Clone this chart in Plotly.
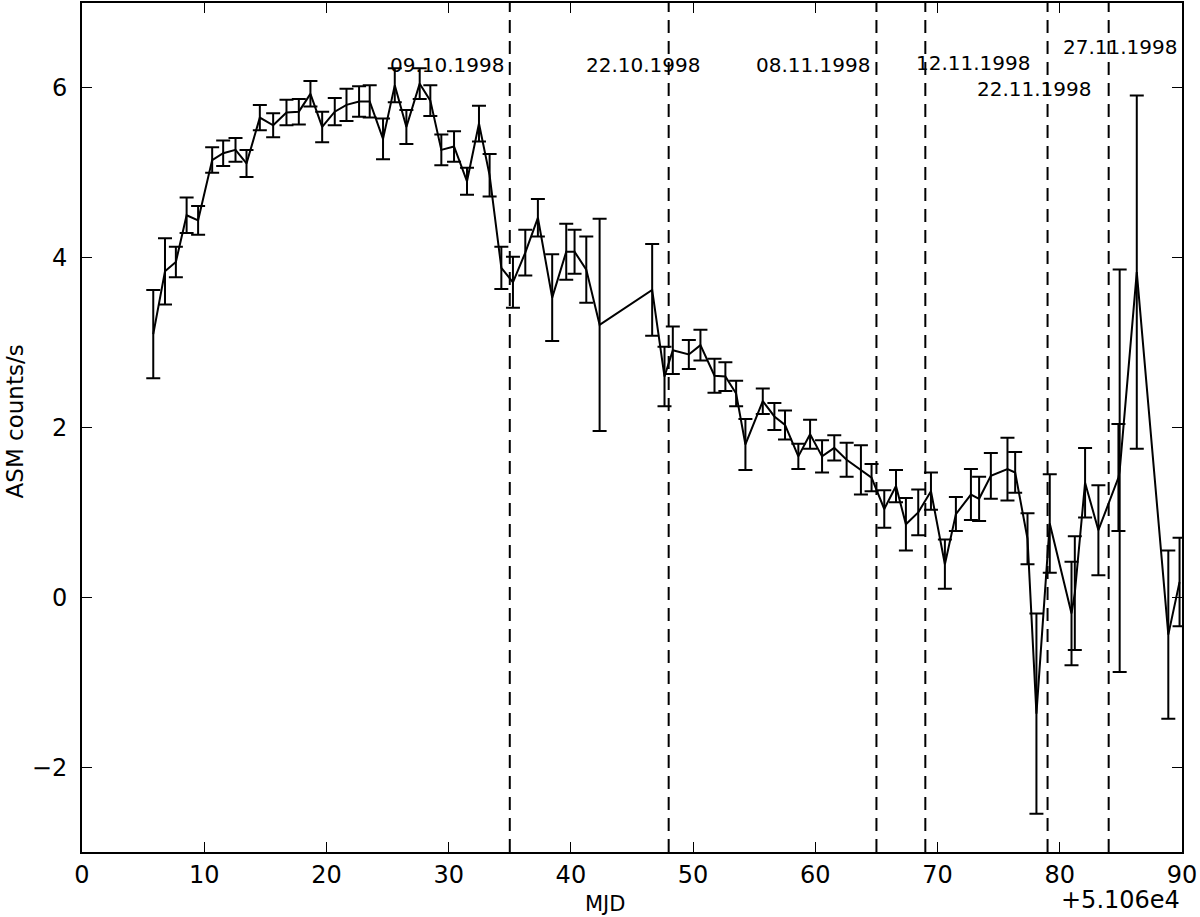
import plotly.graph_objects as go

# MJD offset from 51060, ASM rate and 1-sigma errors
mjd = [5.83, 6.79, 7.68, 8.56, 9.50, 10.65, 11.55, 12.56, 13.46, 14.55,
       15.64, 16.73, 17.74, 18.69, 19.65, 20.68, 21.64, 22.67, 23.54, 24.63,
       25.59, 26.54, 27.63, 28.50, 29.40, 30.44, 31.50, 32.48, 33.35, 34.31,
       35.26, 36.27, 37.30, 38.47, 39.62, 40.30, 41.26, 42.35, 46.65, 47.66,
       48.34, 49.65, 50.60, 51.75, 52.64, 53.52, 54.28, 55.70, 56.65, 57.52,
       58.61, 59.57, 60.55, 61.55, 62.56, 63.73, 64.60, 65.64, 66.60, 67.41,
       68.42, 69.46, 70.60, 71.50, 72.73, 73.40, 74.36, 75.72, 76.35, 77.36,
       78.09, 79.18, 80.96, 81.23, 82.07, 83.16, 84.80, 84.90, 86.30, 88.88, 89.80]

counts = [3.10, 3.84, 3.95, 4.50, 4.44, 5.15, 5.23, 5.27, 5.11, 5.65,
          5.56, 5.71, 5.72, 5.93, 5.54, 5.72, 5.80, 5.84, 5.84, 5.40,
          6.03, 5.54, 6.05, 5.85, 5.27, 5.31, 4.90, 5.58, 4.97, 3.88,
          3.71, 4.06, 4.47, 3.53, 4.07, 4.07, 3.86, 3.21, 3.62, 2.60,
          2.91, 2.86, 2.97, 2.61, 2.60, 2.40, 1.80, 2.31, 2.13, 2.03,
          1.66, 1.92, 1.66, 1.76, 1.62, 1.50, 1.41, 1.04, 1.31, 0.86,
          1.00, 1.25, 0.39, 0.98, 1.21, 1.16, 1.43, 1.51, 1.47, 0.69,
          -1.37, 0.87, -0.19, 0.05, 1.35, 0.79, 1.41, 1.49, 3.83, -0.44, 0.18]

errors = [0.52, 0.39, 0.18, 0.21, 0.17, 0.15, 0.15, 0.14, 0.16, 0.15,
          0.14, 0.15, 0.15, 0.15, 0.18, 0.16, 0.19, 0.18, 0.19, 0.24,
          0.20, 0.20, 0.18, 0.18, 0.18, 0.18, 0.16, 0.21, 0.25, 0.25,
          0.30, 0.27, 0.22, 0.51, 0.33, 0.26, 0.39, 1.25, 0.54, 0.35,
          0.28, 0.17, 0.18, 0.20, 0.17, 0.15, 0.30, 0.15, 0.16, 0.17,
          0.15, 0.17, 0.19, 0.15, 0.20, 0.29, 0.16, 0.22, 0.19, 0.31,
          0.27, 0.22, 0.29, 0.20, 0.30, 0.26, 0.27, 0.37, 0.24, 0.30,
          1.18, 0.58, 0.61, 0.67, 0.41, 0.53, 0.63, 2.37, 2.08, 0.99, 0.52]

# observation dates marked with dashed lines
obs_mjd = [35, 48, 65, 69, 79, 84]
obs_labels = ['09.10.1998', '22.10.1998', '08.11.1998', '12.11.1998', '22.11.1998', '27.11.1998']
label_x = [25.0, 41.1, 55.0, 68.1, 73.1, 80.1]
label_y = [6.27, 6.27, 6.27, 6.29, 5.99, 6.48]

FONT = 'DejaVu Sans'

fig = go.Figure()
fig.add_trace(go.Scatter(
    x=mjd, y=counts,
    mode='lines',
    line=dict(color='black', width=2),
    error_y=dict(type='data', array=errors, visible=True,
                 color='black', thickness=2, width=7),
    showlegend=False,
))

for xv in obs_mjd:
    fig.add_shape(type='line', xref='x', yref='paper', x0=xv, x1=xv, y0=0, y1=1,
                  line=dict(color='black', width=2, dash='13px,8px'))

for txt, xl, yl in zip(obs_labels, label_x, label_y):
    fig.add_annotation(x=xl, y=yl, text=txt, showarrow=False,
                       xanchor='left', yanchor='middle',
                       font=dict(family=FONT, size=20, color='black'))

# axis titles and offset text
fig.add_annotation(xref='paper', yref='paper', x=0.475, y=-0.061, text='MJD',
                   showarrow=False, xanchor='center', yanchor='middle',
                   font=dict(family=FONT, size=21, color='black'))
fig.add_annotation(xref='paper', x=-0.061, yref='paper', y=0.507, text='ASM counts/s',
                   showarrow=False, textangle=-90, xanchor='center', yanchor='middle',
                   font=dict(family=FONT, size=23, color='black'))
fig.add_annotation(xref='paper', yref='paper', x=1.0, y=-0.056, text='+5.106e4',
                   showarrow=False, xanchor='right', yanchor='middle',
                   font=dict(family=FONT, size=24, color='black'))

axis_common = dict(
    showline=True, linecolor='black', linewidth=2, mirror='ticks',
    ticks='inside', ticklen=10, tickwidth=1, tickcolor='black',
    showgrid=False, zeroline=False,
    tickfont=dict(family=FONT, size=24, color='black'),
)

fig.update_layout(
    width=1200, height=917,
    plot_bgcolor='white', paper_bgcolor='white',
    margin=dict(l=82, r=18, t=1, b=65),
    xaxis=dict(range=[0, 90], dtick=10, tick0=0, ticklabelstandoff=0, **axis_common),
    yaxis=dict(range=[-3, 7], dtick=2, tick0=0, ticklabelstandoff=8, **axis_common),
    font=dict(family=FONT, color='black'),
)

# drop the default page margin so the figure sits at the window's corner
fig.write_html('out.html', config={'displayModeBar': False},
               post_script="document.body.style.margin='0px';")
